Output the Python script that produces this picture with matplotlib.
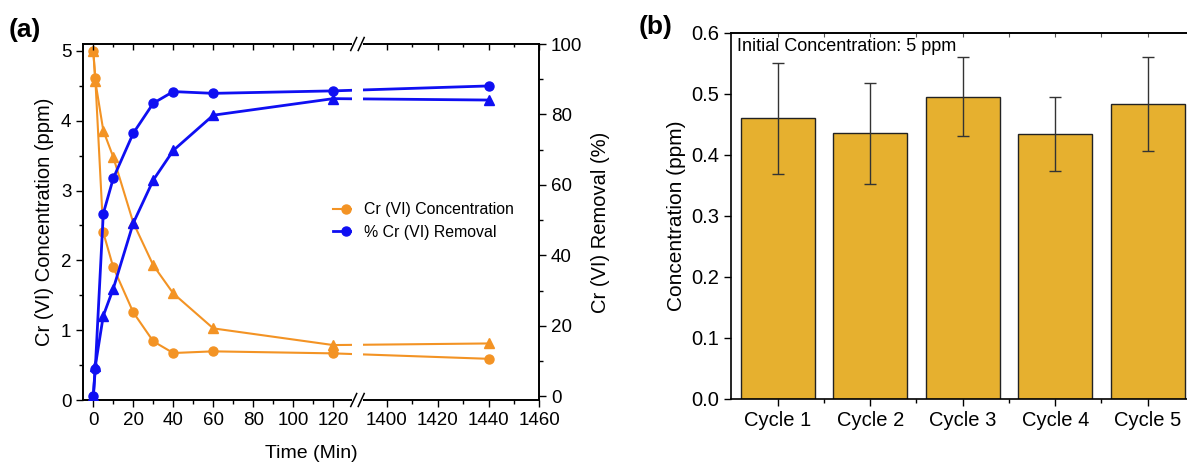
import numpy as np
import matplotlib
matplotlib.use("Agg")
import matplotlib.pyplot as plt
from matplotlib.patches import Polygon
from matplotlib.lines import Line2D

plt.rcParams['font.family'] = ['Liberation Sans', 'DejaVu Sans']

# ---------------- data ----------------
time_min = [0, 1, 5, 10, 20, 30, 40, 60, 120, 1440]
conc_circle = [5.0, 4.61, 2.40, 1.90, 1.255, 0.84, 0.673, 0.697, 0.668, 0.59]
conc_triangle = [5.0, 4.57, 3.86, 3.48, 2.54, 1.93, 1.527, 1.026, 0.787, 0.81]
removal_circle = [0.0, 7.9, 51.9, 61.9, 74.7, 83.2, 86.5, 86.0, 86.7, 88.1]
removal_triangle = [0.0, 8.6, 22.9, 30.6, 49.2, 61.4, 69.8, 79.8, 84.5, 84.1]

xticks_major = [0, 20, 40, 60, 80, 100, 120, 1400, 1420, 1440, 1460]
xticks_minor = [10, 30, 50, 70, 90, 110, 1410, 1430, 1450]

cycles = ["Cycle 1", "Cycle 2", "Cycle 3", "Cycle 4", "Cycle 5"]
cycle_conc = [0.460, 0.435, 0.495, 0.434, 0.484]
cycle_err = [0.091, 0.083, 0.065, 0.060, 0.077]

ORANGE = '#F39324'
BLUE = '#0F0FF2'
BAR = '#E6B02F'

W, H = 1187, 465
fig = plt.figure(figsize=(W / 100, H / 100), dpi=100)

# ---------------- panel (a) ----------------
B1, B2, K = 131.0, 1387.5, 1.27


def fwd(x):
    x = np.asarray(x, dtype=float)
    return np.where(x <= B1, x,
                    np.where(x >= B2, B1 + (x - B2) * K, B1 + (x - B1) * 1e-9))


def inv(y):
    y = np.asarray(y, dtype=float)
    return np.where(y <= B1, y, B2 + (y - B1) / K)


axL = fig.add_axes([83.3 / W, 1 - 400 / H, (539.3 - 83.3) / W, (400 - 44) / H])
axL.set_xscale('function', functions=(fwd, inv))
axL.set_xlim(-5, 1460)
axL.set_ylim(0, 5.1)

axL.plot(time_min, conc_circle, '-o', color=ORANGE, lw=1.5, ms=6.5, zorder=3)
axL.plot(time_min, conc_triangle, '-^', color=ORANGE, lw=1.5, ms=7.5, zorder=3)

axR = axL.twinx()
axR.set_ylim(-1, 100)
axR.plot(time_min, removal_circle, '-o', color=BLUE, lw=2, ms=6.5, zorder=3)
axR.plot(time_min, removal_triangle, '-^', color=BLUE, lw=2, ms=7.5, zorder=3)

axL.set_xticks(xticks_major)
axL.set_xticks(xticks_minor, minor=True)
axL.set_xticklabels([str(v) for v in xticks_major])
axL.set_yticks([0, 1, 2, 3, 4, 5])
axL.set_yticks([0.5, 1.5, 2.5, 3.5, 4.5], minor=True)
axR.set_yticks([0, 20, 40, 60, 80, 100])
axR.set_yticks([10, 30, 50, 70, 90], minor=True)

axL.tick_params(axis='both', which='major', direction='out', length=5, width=1,
                labelsize=13.5, colors='black')
axL.tick_params(axis='both', which='minor', direction='out', length=3, width=1)
axL.tick_params(axis='y', right=False)
axR.tick_params(axis='y', which='major', direction='out', length=5, width=1, labelsize=13.5)
axR.tick_params(axis='y', which='minor', direction='out', length=3, width=1)

# top ticks pointing inward (separate twin axis with the same broken scale)
axT = axL.twiny()
axT.set_xscale('function', functions=(fwd, inv))
axT.set_xlim(-5, 1460)
axT.set_xticks(xticks_major)
axT.set_xticks(xticks_minor, minor=True)
axT.set_xticklabels([])
axT.tick_params(axis='x', which='major', direction='in', length=4, width=1,
                labeltop=False, top=True, bottom=False)
axT.tick_params(axis='x', which='minor', direction='in', length=2.5, width=1,
                top=True, bottom=False)
axT.tick_params(axis='y', left=False, right=False, labelleft=False, labelright=False)
for s in axT.spines.values():
    s.set_visible(False)

for a in (axL, axR):
    for s in a.spines.values():
        s.set_linewidth(1.2)

axL.set_xlabel('Time (Min)', fontsize=14, labelpad=12)
axL.set_ylabel('Cr (VI) Concentration (ppm)', fontsize=14.5, labelpad=5)
axR.set_ylabel('Cr (VI) Removal (%)', fontsize=14.5, labelpad=6)

# axis break: white gap + slashes
bx = (fwd(B1) - fwd(-5)) / (fwd(1460) - fwd(-5))
pxw = 1 / 456.0
pxh = 1 / 356.0
gap = Polygon([[bx - 3.5 * pxw, -6 * pxh], [bx + 7.5 * pxw, -6 * pxh],
               [bx + 7.5 * pxw, 1 + 6 * pxh], [bx - 3.5 * pxw, 1 + 6 * pxh]],
              closed=True, transform=axT.transAxes, facecolor='white',
              edgecolor='none', zorder=10, clip_on=False)
axT.add_patch(gap)
for yb in (0, 1):
    for dx in (-4.5, 3.0):
        axT.add_line(Line2D([bx + dx * pxw, bx + (dx + 6) * pxw],
                            [yb - 6.5 * pxh, yb + 6.5 * pxh],
                            transform=axT.transAxes, color='black', lw=1.1,
                            zorder=11, clip_on=False))

leg_handles = [Line2D([], [], color=ORANGE, lw=1.5, marker='o', ms=6.5),
               Line2D([], [], color=BLUE, lw=2, marker='o', ms=6.5)]
axT.legend(leg_handles, ['Cr (VI) Concentration', '% Cr (VI) Removal'],
           loc='upper left', bbox_to_anchor=(0.516, 0.595), frameon=False,
           fontsize=11.4, handlelength=1.6, handletextpad=0.35, borderpad=0.4,
           labelspacing=0.45)

fig.text(9 / W, 1 - 30 / H, '(a)', fontsize=19, fontweight='bold', va='center', ha='left')

# ---------------- panel (b) ----------------
axB = fig.add_axes([731.4 / W, 1 - 399 / H, (1194 - 731.4) / W, (399 - 32.7) / H])
xpos = np.arange(len(cycles))
axB.bar(xpos, cycle_conc, width=0.8, color=BAR, edgecolor='#222222', linewidth=1,
        yerr=cycle_err, capsize=4,
        error_kw=dict(ecolor='#333333', elinewidth=1, capthick=1), zorder=2)
axB.set_xlim(-0.5, 4.5)
axB.set_ylim(0, 0.6)
axB.set_xticks(xpos)
axB.set_xticklabels(cycles)
axB.set_xticks(xpos[:-1] + 0.5, minor=True)
yt = [0.0, 0.1, 0.2, 0.3, 0.4, 0.5, 0.6]
axB.set_yticks(yt)
axB.set_yticklabels([f'{v:.1f}' for v in yt])
axB.tick_params(axis='both', which='major', direction='out', length=5, width=1,
                labelsize=14.5)
axB.tick_params(axis='x', which='minor', direction='out', length=3, width=1)
axB.spines['right'].set_visible(False)
for s in ('left', 'bottom', 'top'):
    axB.spines[s].set_linewidth(1.2)
secB = axB.secondary_xaxis('top')
secB.set_xticks(xpos)
secB.set_xticks(xpos[:-1] + 0.5, minor=True)
secB.set_xticklabels([])
secB.tick_params(axis='x', which='both', direction='in', length=3, width=0.8,
                 colors='#555555')
secB.spines['top'].set_linewidth(1.2)
axB.set_ylabel('Concentration (ppm)', fontsize=15, labelpad=4)
axB.text(0.013, 0.962, 'Initial Concentration: 5 ppm', transform=axB.transAxes,
         fontsize=13, va='center', ha='left')

fig.text(639 / W, 1 - 27 / H, '(b)', fontsize=19, fontweight='bold', va='center', ha='left')

fig.savefig('out.png', dpi=100)
